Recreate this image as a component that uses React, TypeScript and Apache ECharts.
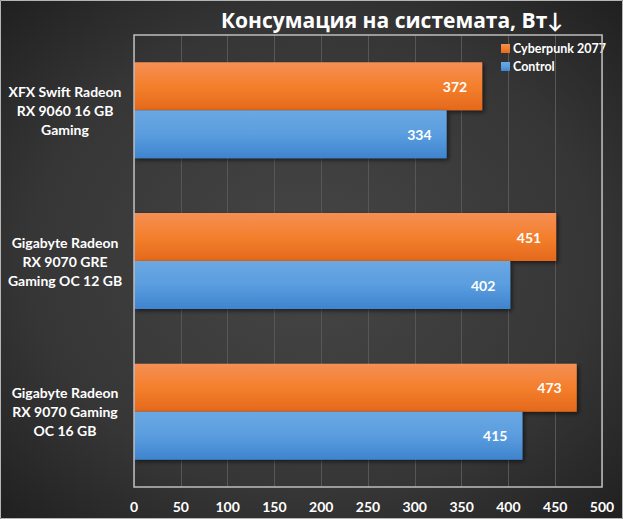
import React, { useEffect, useRef } from "react";
import * as echarts from "echarts";

const categories = [
  "XFX Swift Radeon\nRX 9060 16 GB\nGaming",
  "Gigabyte Radeon\nRX 9070 GRE\nGaming OC 12 GB",
  "Gigabyte Radeon\nRX 9070 Gaming\nOC 16 GB",
];
const cyberpunk = [372, 451, 473];
const control = [334, 402, 415];
const seriesNames = ["Cyberpunk 2077", "Control"];
const titleText = "Консумация на системата, Вт↓";

const FONT = "Lato, 'Open Sans', sans-serif";

export default function App() {
  const ref = useRef<HTMLDivElement>(null);
  useEffect(() => {
    document.body.style.margin = "0";
    const chart = echarts.init(ref.current!, null, { renderer: "svg" });
    const orange = new echarts.graphic.LinearGradient(0, 0, 0, 1, [
      { offset: 0, color: "#f58f55" },
      { offset: 0.5, color: "#f47f2c" },
      { offset: 1, color: "#e4691c" },
    ]);
    const blue = new echarts.graphic.LinearGradient(0, 0, 0, 1, [
      { offset: 0, color: "#6aa8e2" },
      { offset: 0.5, color: "#5a9ddf" },
      { offset: 1, color: "#3f84cd" },
    ]);
    const labelCfg = {
      show: true,
      position: "insideRight",
      offset: [-10, 0],
      color: "#ffffff",
      fontWeight: "bold",
      fontSize: 14,
      fontFamily: FONT,
    };
    const shadow = {
      shadowColor: "rgba(0,0,0,0.55)",
      shadowBlur: 4,
      shadowOffsetX: 2,
      shadowOffsetY: 2,
    };
    chart.setOption({
      animation: false,
      backgroundColor: new echarts.graphic.RadialGradient(0.5, 0.5, 0.75, [
        { offset: 0, color: "#464646" },
        { offset: 0.6, color: "#363636" },
        { offset: 1, color: "#1c1c1c" },
      ]),
      textStyle: { fontFamily: FONT },
      title: {
        text: titleText,
        left: 387,
        top: 4,
        textAlign: "center",
        textStyle: {
          color: "#ffffff",
          fontSize: 21,
          fontWeight: "bold",
          fontFamily: "'Open Sans', Lato, sans-serif",
        },
      },
      legend: {
        orient: "vertical",
        left: 496,
        top: 37,
        itemWidth: 9,
        itemHeight: 9,
        itemGap: 5,
        icon: "rect",
        data: seriesNames,
        textStyle: {
          color: "#ffffff",
          fontSize: 12.5,
          fontWeight: "bold",
          fontFamily: FONT,
          padding: [0, 0, 0, -2],
        },
      },
      grid: { left: 134, right: 21, top: 35, bottom: 32, containLabel: false },
      xAxis: {
        type: "value",
        min: 0,
        max: 500,
        interval: 50,
        axisLine: { show: false },
        axisTick: { show: false },
        splitLine: { show: true, lineStyle: { color: "#575757", width: 1 } },
        axisLabel: {
          color: "#ffffff",
          fontSize: 14,
          fontWeight: "bold",
          fontFamily: FONT,
          margin: 12,
        },
      },
      yAxis: {
        type: "category",
        inverse: true,
        data: categories,
        axisLine: { show: false },
        axisTick: { show: false },
        axisLabel: {
          color: "#ffffff",
          fontSize: 14,
          fontWeight: "bold",
          fontFamily: FONT,
          align: "center",
          margin: 69,
          lineHeight: 19,
        },
      },
      graphic: [
        {
          type: "rect",
          shape: { x: 134, y: 35, width: 468, height: 452 },
          style: { fill: "none", stroke: "#bdbdbd", lineWidth: 1.5 },
          silent: true,
          z: 100,
        },
        {
          type: "rect",
          shape: { x: 0.5, y: 0.5, width: 622, height: 518 },
          style: { fill: "none", stroke: "#b5b5b5", lineWidth: 1 },
          silent: true,
          z: 100,
        },
      ],
      series: [
        {
          name: seriesNames[0],
          type: "bar",
          data: cyberpunk,
          barWidth: 48,
          barGap: "0%",
          itemStyle: { color: orange, ...shadow },
          label: labelCfg,
        },
        {
          name: seriesNames[1],
          type: "bar",
          data: control,
          barWidth: 48,
          barGap: "0%",
          itemStyle: { color: blue, ...shadow },
          label: labelCfg,
        },
      ],
    });
    return () => chart.dispose();
  }, []);
  return <div ref={ref} style={{ width: 623, height: 519 }} />;
}
